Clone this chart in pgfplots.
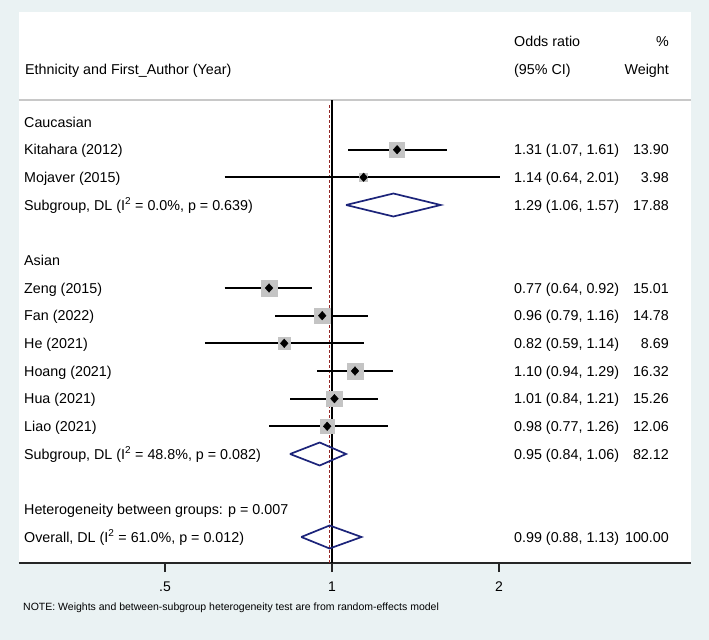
\documentclass[border=0pt]{standalone}
\usepackage{fontspec}
\setmainfont{Liberation Sans}
\usepackage{pgfplots}
\pgfplotsset{compat=1.18}
\usepackage{pgfplotstable}
\definecolor{bgc}{RGB}{234,242,243}
\definecolor{dnavy}{RGB}{28,36,122}
\definecolor{boxg}{RGB}{196,196,196}
\definecolor{nullred}{RGB}{150,40,40}
\definecolor{hdrline}{RGB}{200,200,200}
\newcommand\mainsz{\fontsize{14.3bp}{17bp}\selectfont}
\newcommand\notesz{\fontsize{10.5bp}{12bp}\selectfont}

% individual studies: OR, CI, weight, vertical position
\pgfplotstableread{
or   lo   hi   w     y
1.31 1.07 1.61 13.90 413.3
1.14 0.64 2.01 3.98  385.7
0.77 0.64 0.92 15.01 275.0
0.96 0.79 1.16 14.78 247.3
0.82 0.59 1.14 8.69  219.7
1.10 0.94 1.29 16.32 192.0
1.01 0.84 1.21 15.26 164.3
0.98 0.77 1.26 12.06 136.7
}\studies

\begin{document}
\begin{tikzpicture}[tx/.style={inner sep=0pt, text height=10.2bp, text depth=0pt, font=\mainsz}]
\fill[bgc] (-19bp,-77bp) rectangle (690bp,563bp);
\fill[white] (0,0) rectangle (672bp,551bp);
\begin{axis}[
  at={(0,0)}, anchor=south west,
  scale only axis, width=672bp, height=551bp,
  xmode=log, log basis x=2,
  xmin=0.2727, xmax=4.437, ymin=0, ymax=551,
  axis x line*=bottom, axis y line=none,
  x axis line style={line width=1.5bp, color=black!85},
  xtick={0.5,1,2}, xticklabels={.5,1,2},
  tick align=outside, major tick length=9bp,
  xtick style={line width=1.2bp, color=black!85},
  xticklabel style={font=\fontsize{14bp}{16bp}\selectfont, yshift=-6bp},
  minor tick num=0, clip=false, axis background/.style={fill=none},
]
% header separator
\addplot[hdrline, line width=1.2bp] coordinates {(0.2727,463) (4.437,463)};
% null line and overall estimate (dashed)
\addplot[black, line width=1.3bp] coordinates {(1,0) (1,463)};
\addplot[nullred, dash pattern=on 3bp off 2bp, line width=1.1bp] coordinates {(0.99,0) (0.99,458)};
% confidence intervals
\addplot[black, line width=1.7bp] coordinates {(1.07,413.3) (1.61,413.3)};
\addplot[black, line width=1.7bp] coordinates {(0.64,385.7) (2.01,385.7)};
\addplot[black, line width=1.7bp] coordinates {(0.64,275.0) (0.92,275.0)};
\addplot[black, line width=1.7bp] coordinates {(0.79,247.3) (1.16,247.3)};
\addplot[black, line width=1.7bp] coordinates {(0.59,219.7) (1.14,219.7)};
\addplot[black, line width=1.7bp] coordinates {(0.94,192.0) (1.29,192.0)};
\addplot[black, line width=1.7bp] coordinates {(0.84,164.3) (1.21,164.3)};
\addplot[black, line width=1.7bp] coordinates {(0.77,136.7) (1.26,136.7)};
% weight boxes
\addplot[scatter, only marks, mark=square*,
  scatter/use mapped color={draw=boxg, fill=boxg},
  visualization depends on={2.01*sqrt(\thisrow{w}) \as \msize},
  scatter/@pre marker code/.append style={/tikz/mark size=\msize}]
  table[x=or, y=y] {\studies};
% point estimates
\addplot[only marks, mark=diamond*, mark size=4.3, mark options={xscale=1.2}, black] table[x=or, y=y] {\studies};
% pooled diamonds
\addplot[dnavy, line width=1.7bp] coordinates {(1.06,358) (1.29,369.5) (1.57,358) (1.29,346.5) (1.06,358)};
\addplot[dnavy, line width=1.7bp] coordinates {(0.84,109) (0.95,120.5) (1.06,109) (0.95,97.5) (0.84,109)};
\addplot[dnavy, line width=1.7bp] coordinates {(0.88,26) (0.99,37.5) (1.13,26) (0.99,14.5) (0.88,26)};
\end{axis}
% header
\node[tx, anchor=west] at (6bp,494bp) {Ethnicity and First\_Author (Year)};
\node[tx, anchor=west] at (495bp,522bp) {Odds ratio};
\node[tx, anchor=west] at (495bp,494bp) {(95\% CI)};
\node[tx, anchor=east] at (650bp,522bp) {\%};
\node[tx, anchor=east] at (650bp,494bp) {Weight};
% left labels
\node[tx, anchor=west] at (5bp,441bp) {Caucasian};
\node[tx, anchor=west] at (5bp,413.3bp) {Kitahara (2012)};
\node[tx, anchor=west] at (5bp,385.7bp) {Mojaver (2015)};
\node[tx, anchor=west] at (5bp,358bp) {Subgroup, DL (I\textsuperscript{2} = 0.0\%, p = 0.639)};
\node[tx, anchor=west] at (5bp,302.7bp) {Asian};
\node[tx, anchor=west] at (5bp,275bp) {Zeng (2015)};
\node[tx, anchor=west] at (5bp,247.3bp) {Fan (2022)};
\node[tx, anchor=west] at (5bp,219.7bp) {He (2021)};
\node[tx, anchor=west] at (5bp,192bp) {Hoang (2021)};
\node[tx, anchor=west] at (5bp,164.3bp) {Hua (2021)};
\node[tx, anchor=west] at (5bp,136.7bp) {Liao (2021)};
\node[tx, anchor=west] at (5bp,109bp) {Subgroup, DL (I\textsuperscript{2} = 48.8\%, p = 0.082)};
\node[tx, anchor=west] at (5bp,53.7bp) {Heterogeneity between groups: p = 0.007};
\node[tx, anchor=west] at (5bp,26bp) {Overall, DL (I\textsuperscript{2} = 61.0\%, p = 0.012)};
% estimate column
\node[tx, anchor=west] at (495bp,413.3bp) {1.31 (1.07, 1.61)};
\node[tx, anchor=west] at (495bp,385.7bp) {1.14 (0.64, 2.01)};
\node[tx, anchor=west] at (495bp,358bp) {1.29 (1.06, 1.57)};
\node[tx, anchor=west] at (495bp,275bp) {0.77 (0.64, 0.92)};
\node[tx, anchor=west] at (495bp,247.3bp) {0.96 (0.79, 1.16)};
\node[tx, anchor=west] at (495bp,219.7bp) {0.82 (0.59, 1.14)};
\node[tx, anchor=west] at (495bp,192bp) {1.10 (0.94, 1.29)};
\node[tx, anchor=west] at (495bp,164.3bp) {1.01 (0.84, 1.21)};
\node[tx, anchor=west] at (495bp,136.7bp) {0.98 (0.77, 1.26)};
\node[tx, anchor=west] at (495bp,109bp) {0.95 (0.84, 1.06)};
\node[tx, anchor=west] at (495bp,26bp) {0.99 (0.88, 1.13)};
% weight column
\node[tx, anchor=east] at (650bp,413.3bp) {13.90};
\node[tx, anchor=east] at (650bp,385.7bp) {3.98};
\node[tx, anchor=east] at (650bp,358bp) {17.88};
\node[tx, anchor=east] at (650bp,275bp) {15.01};
\node[tx, anchor=east] at (650bp,247.3bp) {14.78};
\node[tx, anchor=east] at (650bp,219.7bp) {8.69};
\node[tx, anchor=east] at (650bp,192bp) {16.32};
\node[tx, anchor=east] at (650bp,164.3bp) {15.26};
\node[tx, anchor=east] at (650bp,136.7bp) {12.06};
\node[tx, anchor=east] at (650bp,109bp) {82.12};
\node[tx, anchor=east] at (650bp,26bp) {100.00};
% note
\node[inner sep=0pt, anchor=west, font=\notesz, text height=7.5bp, text depth=0pt] at (4bp,-44bp) {NOTE: Weights and between-subgroup heterogeneity test are from random-effects model};
\end{tikzpicture}
\end{document}
